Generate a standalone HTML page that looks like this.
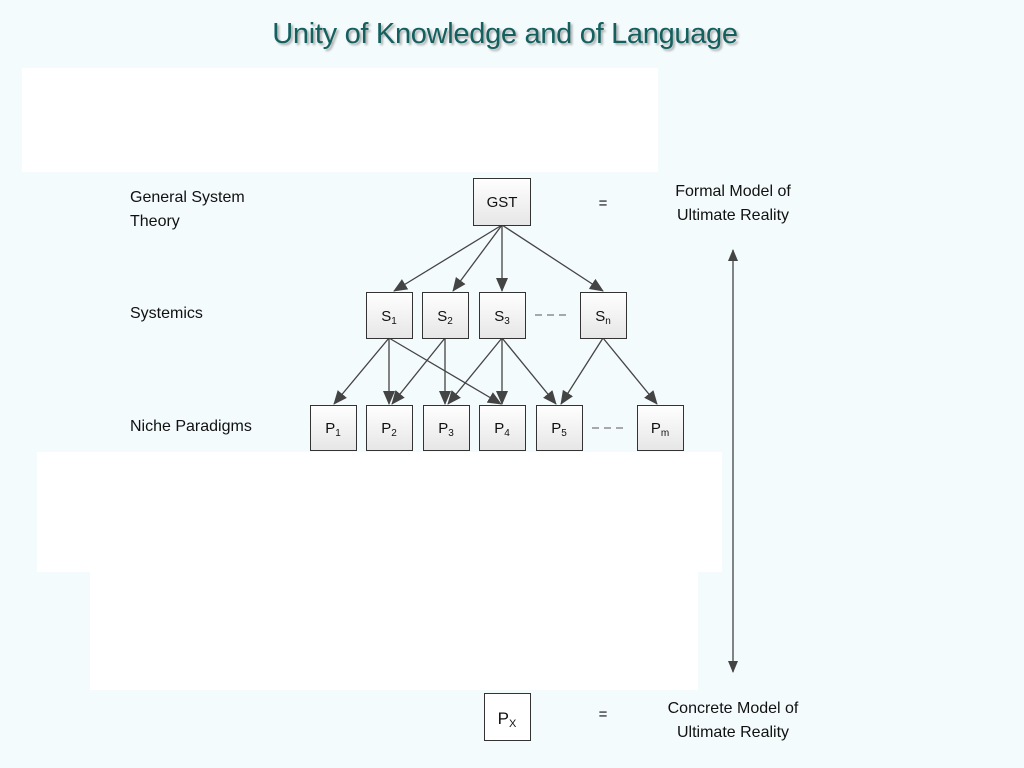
<!DOCTYPE html>
<html><head><style>
body{margin:0;width:1024px;height:768px;background:#f4fbfd;position:relative;overflow:hidden;font-family:"Liberation Sans",sans-serif}
.w{position:absolute;background:#fff}
.t{position:absolute;font-size:16px;color:#111}
h1{position:absolute;left:0;width:1010px;top:18px;margin:0;text-align:center;font-weight:normal;font-size:29px;color:#13605f;text-shadow:2px 2px 2px #aaa;letter-spacing:-0.3px}
</style></head><body>
<h1>Unity of Knowledge and of Language</h1>
<div class="w" style="left:22px;top:68px;width:636px;height:104px"></div>
<div class="w" style="left:37px;top:452px;width:685px;height:120px"></div>
<div class="w" style="left:90px;top:572px;width:608px;height:118px"></div>
<svg width="1024" height="768" style="position:absolute;left:0;top:0">
<defs>
<linearGradient id="g" x1="0" y1="0" x2="0" y2="1"><stop offset="0" stop-color="#fff"/><stop offset="1" stop-color="#e6e6e6"/></linearGradient>
<marker id="a" markerWidth="14" markerHeight="12" refX="13" refY="6" orient="auto" markerUnits="userSpaceOnUse"><path d="M0,0 L14,6 L0,12 z" fill="#444"/></marker>
<marker id="b" markerWidth="12" markerHeight="10" refX="11" refY="5" orient="auto-start-reverse" markerUnits="userSpaceOnUse"><path d="M0,0 L12,5 L0,10 z" fill="#444"/></marker>
</defs>
<g stroke="#444" stroke-width="1.3" fill="none" marker-end="url(#a)">
<line x1="502" y1="225" x2="394" y2="291"/>
<line x1="502" y1="225" x2="453" y2="291"/>
<line x1="502" y1="225" x2="502" y2="291"/>
<line x1="502" y1="225" x2="603" y2="291"/>
<line x1="389" y1="338" x2="334" y2="404"/>
<line x1="389" y1="338" x2="389" y2="404"/>
<line x1="389" y1="338" x2="501" y2="404"/>
<line x1="445" y1="338" x2="392" y2="404"/>
<line x1="445" y1="338" x2="445" y2="404"/>
<line x1="502" y1="338" x2="448" y2="404"/>
<line x1="502" y1="338" x2="502" y2="404"/>
<line x1="502" y1="338" x2="556" y2="404"/>
<line x1="603" y1="338" x2="561" y2="404"/>
<line x1="603" y1="338" x2="657" y2="404"/>
</g>
<line x1="733" y1="250" x2="733" y2="672" stroke="#444" stroke-width="1.3" marker-start="url(#b)" marker-end="url(#b)"/>
<g stroke="#777" stroke-width="1.2" stroke-dasharray="7,5"><line x1="535" y1="315" x2="570" y2="315"/><line x1="592" y1="428" x2="627" y2="428"/></g>
<g fill="url(#g)" stroke="#333" stroke-width="1">
<rect x="473.5" y="178.5" width="57" height="47"/>
<rect x="366.5" y="292.5" width="46" height="46"/><rect x="422.5" y="292.5" width="46" height="46"/><rect x="479.5" y="292.5" width="46" height="46"/><rect x="580.5" y="292.5" width="46" height="46"/>
<rect x="310.5" y="405.5" width="46" height="45"/><rect x="366.5" y="405.5" width="46" height="45"/><rect x="423.5" y="405.5" width="46" height="45"/><rect x="479.5" y="405.5" width="46" height="45"/><rect x="536.5" y="405.5" width="46" height="45"/><rect x="637.5" y="405.5" width="46" height="45"/>
<rect x="484.5" y="693.5" width="46" height="47" fill="#fff"/>
</g>
<g font-family="Liberation Sans,sans-serif" font-size="15" fill="#111" text-anchor="middle">
<text x="502" y="207">GST</text>
<text x="389" y="321">S<tspan font-size="10" dy="3">1</tspan></text>
<text x="445" y="321">S<tspan font-size="10" dy="3">2</tspan></text>
<text x="502" y="321">S<tspan font-size="10" dy="3">3</tspan></text>
<text x="603" y="321">S<tspan font-size="10" dy="3">n</tspan></text>
<text x="333" y="433">P<tspan font-size="10" dy="3">1</tspan></text>
<text x="389" y="433">P<tspan font-size="10" dy="3">2</tspan></text>
<text x="446" y="433">P<tspan font-size="10" dy="3">3</tspan></text>
<text x="502" y="433">P<tspan font-size="10" dy="3">4</tspan></text>
<text x="559" y="433">P<tspan font-size="10" dy="3">5</tspan></text>
<text x="660" y="433">P<tspan font-size="10" dy="3">m</tspan></text>
<text x="507" y="724" font-size="17">P<tspan font-size="11" dy="3">X</tspan></text>
<text x="603" y="208">=</text>
<text x="603" y="719">=</text>
</g>
</svg>
<div class="t" style="left:130px;top:186px;line-height:24px">General System<br>Theory</div>
<div class="t" style="left:130px;top:305px">Systemics</div>
<div class="t" style="left:130px;top:418px">Niche Paradigms</div>
<div class="t" style="left:653px;top:180px;width:160px;text-align:center;line-height:24px">Formal Model of<br>Ultimate Reality</div>
<div class="t" style="left:653px;top:697px;width:160px;text-align:center;line-height:24px">Concrete Model of<br>Ultimate Reality</div>
</body></html>
